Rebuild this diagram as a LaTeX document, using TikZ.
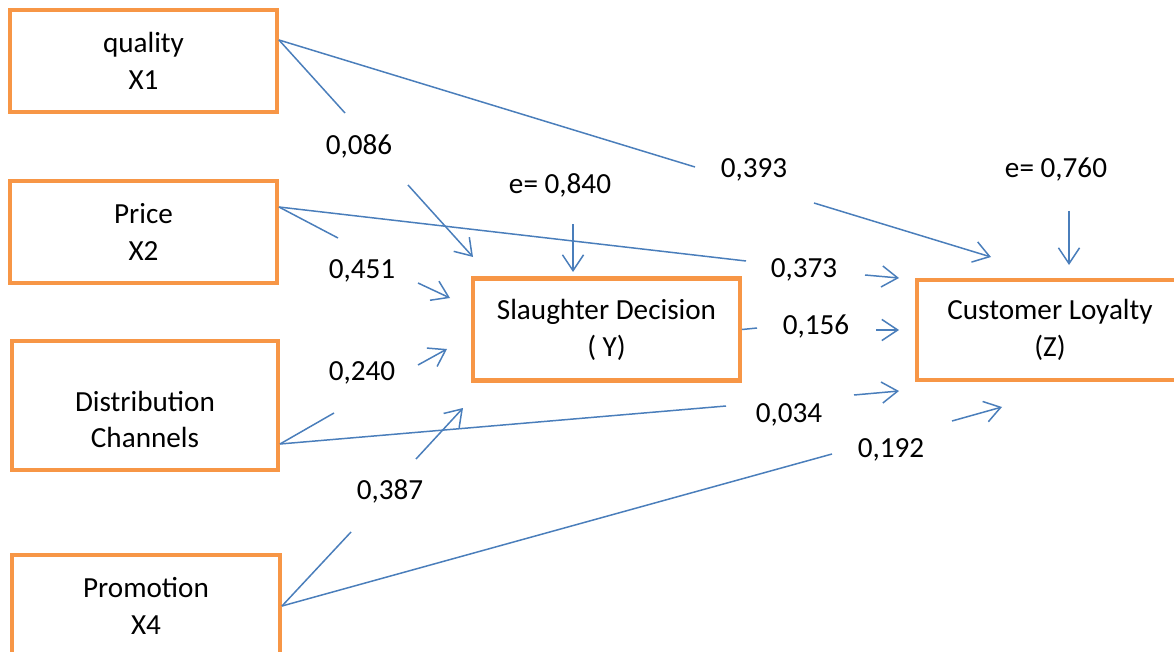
\documentclass[tikz,border=0pt]{standalone}
\usepackage{fontspec}
\setmainfont{Carlito}
\usetikzlibrary{arrows.meta}
\definecolor{boxOrange}{RGB}{247,150,70}
\definecolor{lineBlue}{RGB}{74,126,187}
\tikzset{
    >={Straight Barb[length=9pt,width=12pt]},
    every node/.append style={align=center,font=\fontsize{16.6}{21}\selectfont},
    vbox/.style={draw=boxOrange,line width=2.3pt,minimum width=5.34cm,minimum height=2.04cm,inner sep=0pt},
    lnk/.style={draw=lineBlue,line width=0.85pt},
}

\begin{document}
\begin{tikzpicture}[x=0.02cm,y=-0.02cm]
        \useasboundingbox (0,0) rectangle (1174,652);

        \node[vbox] (x1) at (143.5,61) {quality\\X1};
        \node[vbox] (x2) at (143.5,232) {Price\\X2};
        \node[vbox,minimum width=5.32cm,minimum height=2.58cm] (x3) at (145,405.5) {};
        \node[yshift=-0.28cm] (x3t) at (x3.center) {Distribution\\Channels};
        \node[vbox,minimum width=5.36cm] (x4) at (146,606) {Promotion\\X4};
        \node[vbox] (dec) at (606.5,329.5) {Slaughter Decision\\( Y)};
        \node[vbox,minimum height=2cm] (loy) at (1050,330) {Customer Loyalty\\(Z)};

        \node (l086) at (359,146) {0,086};
        \node (l393) at (754,170) {0,393};
        \node (l451) at (362,271) {0,451};
        \node (l373) at (804,270) {0,373};
        \node (l156) at (816,327) {0,156};
        \node (l240) at (362,373) {0,240};
        \node (l034) at (789,415) {0,034};
        \node (l192) at (891,450) {0,192};
        \node (l387) at (390,491) {0,387};
        \node (e840) at (560,185) {e= 0,840};
        \node (e760) at (1056,170) {e= 0,760};

        \coordinate (t1) at (345,113);
        \coordinate (s1) at (408,185);
        \coordinate (h1) at (473,257);
        \draw[lnk] ([yshift=0.42cm]x1.east) -- (t1);
        \draw[lnk,->] (s1) -- (h1);

        \coordinate (t2) at (695,167);
        \coordinate (s2) at (814,203);
        \coordinate (h2) at (991,257);
        \draw[lnk] ([yshift=0.42cm]x1.east) -- (t2);
        \draw[lnk,->] (s2) -- (h2);

        \coordinate (t3) at (338,238);
        \coordinate (s3) at (418,283);
        \coordinate (h3) at (450,298);
        \draw[lnk] ([yshift=0.5cm]x2.east) -- (t3);
        \draw[lnk,->] (s3) -- (h3);

        \coordinate (t4) at (746,261);
        \coordinate (s4) at (865,275);
        \coordinate (h4) at (899,278);
        \draw[lnk] ([yshift=0.5cm]x2.east) -- (t4);
        \draw[lnk,->] (s4) -- (h4);

        \coordinate (s5) at (573,224);
        \coordinate (h5) at (573,272);
        \draw[lnk,->] (s5) -- (h5);

        \coordinate (s6) at (1069,211);
        \coordinate (h6) at (1069,265);
        \draw[lnk,->] (s6) -- (h6);

        \coordinate (t7) at (757,328);
        \coordinate (s7) at (876,330);
        \coordinate (h7) at (899,330);
        \draw[lnk] (dec.east) -- (t7);
        \draw[lnk,->] (s7) -- (h7);

        \coordinate (t8) at (334,413);
        \coordinate (s8) at (418,365);
        \coordinate (h8) at (447,349);
        \draw[lnk] ([yshift=-0.77cm]x3.east) -- (t8);
        \draw[lnk,->] (s8) -- (h8);

        \coordinate (t9) at (726,406);
        \coordinate (s9) at (854,395);
        \coordinate (h9) at (899,391);
        \draw[lnk] ([yshift=-0.77cm]x3.east) -- (t9);
        \draw[lnk,->] (s9) -- (h9);

        \coordinate (t10) at (351,532);
        \coordinate (s10) at (416,459);
        \coordinate (h10) at (463,408);
        \draw[lnk] (x4.east) -- (t10);
        \draw[lnk,->] (s10) -- (h10);

        \coordinate (t11) at (832,454);
        \coordinate (s11) at (952,421);
        \coordinate (h11) at (1002,407);
        \draw[lnk] (x4.east) -- (t11);
        \draw[lnk,->] (s11) -- (h11);
\end{tikzpicture}
\end{document}
